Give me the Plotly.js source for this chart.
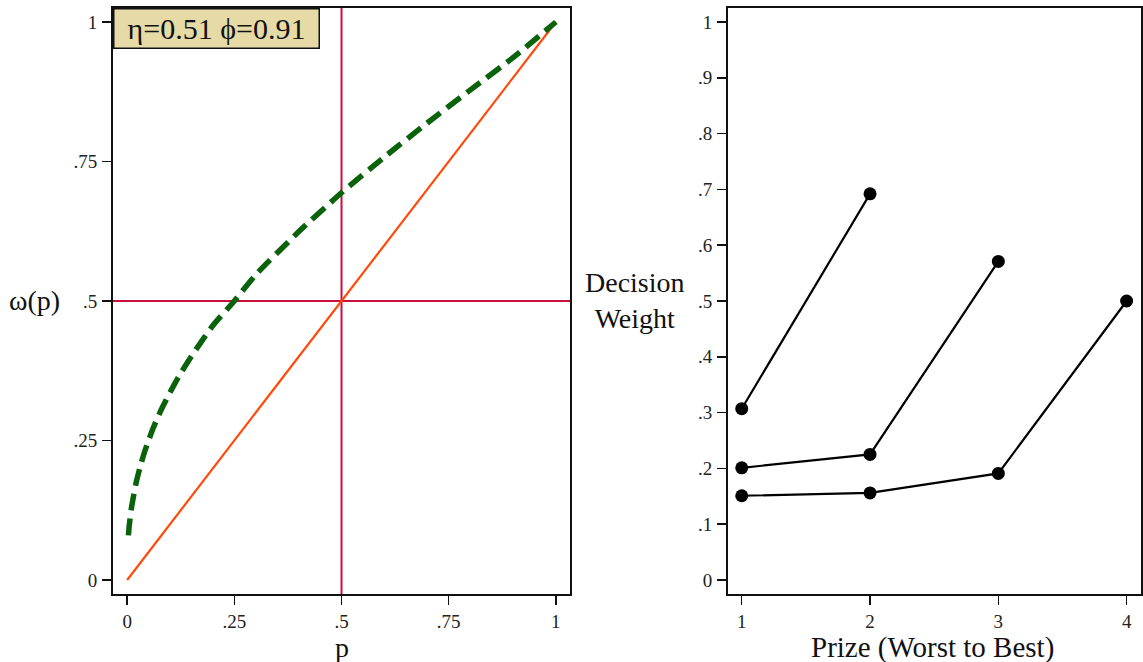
<!DOCTYPE html>
<html>
<head>
<meta charset="utf-8">
<script src="https://cdn.plot.ly/plotly-3.0.1.min.js"></script>
<style>html,body{margin:0;padding:0;background:#fff;}#chart{width:1143px;height:662px;}</style>
</head>
<body>
<div id="chart"></div>
<script>
// Left panel: probability weighting function
const pValues = [0.003, 0.005, 0.01, 0.02, 0.03, 0.04, 0.05, 0.06, 0.07, 0.08, 0.1, 0.12, 0.15, 0.2, 0.25, 0.3, 0.4, 0.5, 0.6, 0.7, 0.8, 0.9, 1.0];
const weightValues = [0.08, 0.098, 0.129, 0.171, 0.202, 0.228, 0.25, 0.271, 0.289, 0.306, 0.336, 0.364, 0.401, 0.456, 0.50, 0.547, 0.624, 0.694, 0.758, 0.819, 0.878, 0.936, 1.0];
const diagP = [0, 1];
const diagW = [0, 1];
const refP = 0.5;
const refW = 0.5;
const leftXTicks = [0, 0.25, 0.5, 0.75, 1];
const leftXTickText = ["0", ".25", ".5", ".75", "1"];
const leftYTickText = ["0", ".25", ".5", ".75", "1"];
const paramLabel = "η=0.51 ϕ=0.91";

// Right panel: decision weights by prize rank
const prizes2 = [1, 2];
const weights2 = [0.307, 0.692];
const prizes3 = [1, 2, 3];
const weights3 = [0.201, 0.225, 0.571];
const prizes4 = [1, 2, 3, 4];
const weights4 = [0.151, 0.156, 0.191, 0.500];
const rightXTicks = [1, 2, 3, 4];
const rightYTicks = [0, 0.1, 0.2, 0.3, 0.4, 0.5, 0.6, 0.7, 0.8, 0.9, 1];
const rightYTickText = ["0", ".1", ".2", ".3", ".4", ".5", ".6", ".7", ".8", ".9", "1"];

const FONT = "'Liberation Serif', 'DejaVu Serif', serif";
const crimson = "#c8103e";

const traces = [
  {x: [refP, refP], y: [-0.025, 1.025], xaxis: "x", yaxis: "y", mode: "lines",
   line: {color: crimson, width: 2}, hoverinfo: "skip", showlegend: false},
  {x: [-0.033, 1.033], y: [refW, refW], xaxis: "x", yaxis: "y", mode: "lines",
   line: {color: crimson, width: 2}, hoverinfo: "skip", showlegend: false},
  {x: diagP, y: diagW, xaxis: "x", yaxis: "y", mode: "lines",
   line: {color: "#ff4a0a", width: 2.2}, showlegend: false},
  {x: pValues, y: weightValues, xaxis: "x", yaxis: "y", mode: "lines",
   line: {color: "#0a620a", width: 5.5, dash: "17px,8px", shape: "spline", smoothing: 0.6}, showlegend: false},
  {x: prizes2, y: weights2, xaxis: "x2", yaxis: "y2", mode: "lines+markers",
   line: {color: "#000", width: 2.2}, marker: {color: "#000", size: 13}, showlegend: false},
  {x: prizes3, y: weights3, xaxis: "x2", yaxis: "y2", mode: "lines+markers",
   line: {color: "#000", width: 2.2}, marker: {color: "#000", size: 13}, showlegend: false},
  {x: prizes4, y: weights4, xaxis: "x2", yaxis: "y2", mode: "lines+markers",
   line: {color: "#000", width: 2.2}, marker: {color: "#000", size: 13}, showlegend: false}
];

const axisCommon = {
  showgrid: false, zeroline: false, showline: true, mirror: true,
  linecolor: "#111", linewidth: 2, ticks: "outside", ticklen: 9, tickwidth: 1.5,
  tickcolor: "#111", tickfont: {family: FONT, size: 19, color: "#222"}, fixedrange: true
};

const layout = {
  width: 1143, height: 662,
  margin: {l: 0, r: 0, t: 0, b: 0},
  paper_bgcolor: "#fff", plot_bgcolor: "#fff",
  font: {family: FONT, color: "#222"},
  xaxis: Object.assign({}, axisCommon, {domain: [113/1143, 570/1143], range: [-0.033, 1.033],
    tickvals: leftXTicks, ticktext: leftXTickText, anchor: "y", ticklabelstandoff: 0}),
  yaxis: Object.assign({}, axisCommon, {domain: [68/662, 654/662], range: [-0.0251, 1.0251],
    tickvals: leftXTicks, ticktext: leftYTickText, anchor: "x", ticklabelstandoff: 1}),
  xaxis2: Object.assign({}, axisCommon, {domain: [728/1143, 1141/1143], range: [0.893, 4.112],
    tickvals: rightXTicks, anchor: "y2", ticklabelstandoff: 0}),
  yaxis2: Object.assign({}, axisCommon, {domain: [68/662, 654/662], range: [-0.0251, 1.0251],
    tickvals: rightYTicks, ticktext: rightYTickText, anchor: "x2", ticklabelstandoff: 1}),
  annotations: [
    {text: paramLabel, xref: "paper", yref: "paper", x: 113/1143, y: 654/662,
     xanchor: "left", yanchor: "top", showarrow: false,
     font: {family: FONT, size: 30, color: "#111"}, bgcolor: "#e6dba6",
     bordercolor: "#111", borderwidth: 1.5, borderpad: 1, width: 202, height: 36, align: "center"},
    {text: "ω(p)", xref: "paper", yref: "paper", x: 34/1143, y: (662-300)/662,
     xanchor: "center", yanchor: "middle", showarrow: false,
     font: {family: FONT, size: 28, color: "#111"}},
    {text: "p", xref: "paper", yref: "paper", x: 342/1143, y: (662-647)/662,
     xanchor: "center", yanchor: "middle", showarrow: false,
     font: {family: FONT, size: 28, color: "#111"}},
    {text: "Decision<br>Weight", xref: "paper", yref: "paper", x: 635/1143, y: (662-300)/662,
     xanchor: "center", yanchor: "middle", showarrow: false,
     font: {family: FONT, size: 28, color: "#111"}},
    {text: "Prize (Worst to Best)", xref: "paper", yref: "paper", x: 932/1143, y: (662-647)/662,
     xanchor: "center", yanchor: "middle", showarrow: false,
     font: {family: FONT, size: 29, color: "#111"}}
  ]
};

Plotly.newPlot("chart", traces, layout, {displayModeBar: false, staticPlot: true});
</script>
</body>
</html>
